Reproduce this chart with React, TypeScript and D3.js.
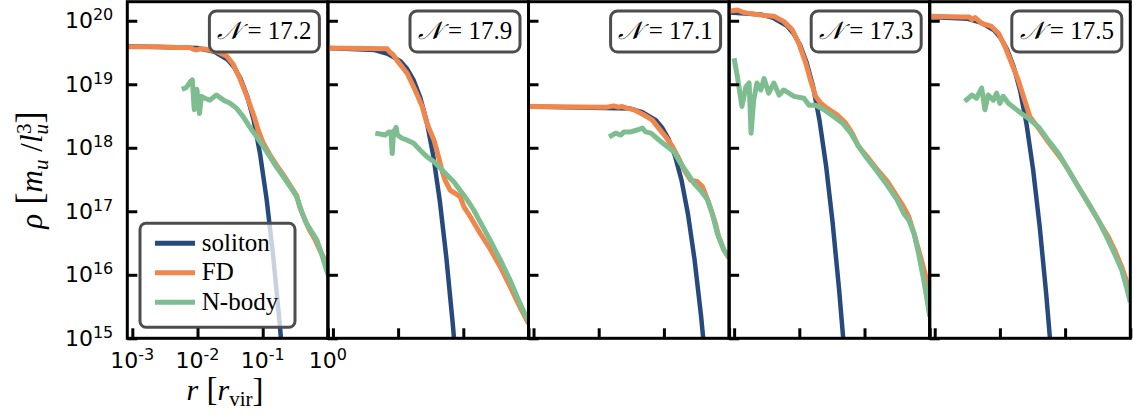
import React, { useEffect, useRef } from 'react';
import * as d3 from 'd3';

// every pair is [log10(r / r_vir), log10(rho)]
const solitonA = [[-3.08, 19.6], [-2.0, 19.57], [-1.74, 19.51], [-1.54, 19.39], [-1.44, 19.27], [-1.34, 19.09], [-1.24, 18.82], [-1.14, 18.44], [-1.04, 17.9], [-0.94, 17.19], [-0.84, 16.3], [-0.74, 15.24], [-0.64, 14.02]];
const fdA = [[-3.08, 19.59], [-2.6, 19.59], [-2.3, 19.58], [-2.12, 19.58], [-2.06, 19.55], [-2.01, 19.54], [-1.95, 19.56], [-1.86, 19.55], [-1.71, 19.52], [-1.55, 19.44], [-1.45, 19.31], [-1.35, 19.09], [-1.25, 18.83], [-1.14, 18.52], [-1.07, 18.28], [-0.99, 18.07], [-0.89, 17.89], [-0.79, 17.73], [-0.68, 17.57], [-0.58, 17.41], [-0.48, 17.25], [-0.43, 17.06], [-0.35, 16.86], [-0.28, 16.7], [-0.2, 16.56], [-0.12, 16.38], [-0.04, 16.22], [0.01, 16.06]];
const nbodyA = [[-2.24, 18.92], [-2.17, 18.95], [-2.11, 19.04], [-2.08, 19.07], [-2.05, 18.6], [-2.01, 18.92], [-1.97, 18.54], [-1.94, 18.81], [-1.89, 18.78], [-1.81, 18.75], [-1.71, 18.83], [-1.6, 18.75], [-1.5, 18.7], [-1.4, 18.62], [-1.3, 18.49], [-1.2, 18.33], [-1.09, 18.17], [-0.99, 18.02], [-0.89, 17.86], [-0.79, 17.7], [-0.68, 17.54], [-0.58, 17.39], [-0.48, 17.23], [-0.4, 16.99], [-0.33, 16.81], [-0.25, 16.68], [-0.17, 16.55], [-0.1, 16.34], [-0.02, 16.07], [0.02, 15.95]];

const solitonB = [[-3.08, 19.57], [-2.36, 19.54], [-2.16, 19.48], [-1.96, 19.36], [-1.86, 19.24], [-1.76, 19.06], [-1.66, 18.79], [-1.56, 18.41], [-1.46, 17.87], [-1.36, 17.16], [-1.26, 16.27], [-1.16, 15.21], [-1.06, 13.99]];
const fdB = [[-3.08, 19.57], [-2.17, 19.56], [-2.12, 19.5], [-2.08, 19.47], [-2.02, 19.38], [-1.86, 19.17], [-1.74, 18.91], [-1.63, 18.65], [-1.56, 18.39], [-1.45, 18.12], [-1.38, 17.86], [-1.33, 17.65], [-1.28, 17.49], [-1.2, 17.33], [-1.12, 17.28], [-1.05, 17.23], [-0.99, 17.07], [-0.89, 16.91], [-0.74, 16.65], [-0.59, 16.41], [-0.43, 16.12], [-0.28, 15.81], [-0.13, 15.49], [0.0, 15.23]];
const nbodyB = [[-2.35, 18.23], [-2.2, 18.2], [-2.14, 18.25], [-2.11, 18.25], [-2.09, 17.91], [-2.07, 18.25], [-2.03, 18.32], [-2.01, 18.2], [-1.94, 18.15], [-1.86, 18.12], [-1.76, 18.07], [-1.66, 17.96], [-1.56, 17.86], [-1.45, 17.78], [-1.35, 17.68], [-1.25, 17.57], [-1.15, 17.47], [-1.05, 17.33], [-0.94, 17.18], [-0.84, 17.02], [-0.74, 16.83], [-0.59, 16.55], [-0.43, 16.23], [-0.28, 15.91], [-0.13, 15.55], [0.0, 15.26]];

const solitonC = [[-3.08, 18.65], [-1.53, 18.62], [-1.33, 18.56], [-1.13, 18.44], [-1.03, 18.32], [-0.93, 18.14], [-0.83, 17.87], [-0.73, 17.49], [-0.63, 16.95], [-0.53, 16.24], [-0.43, 15.35], [-0.33, 14.29]];
const fdC = [[-3.08, 18.65], [-1.87, 18.64], [-1.77, 18.66], [-1.7, 18.64], [-1.64, 18.65], [-1.56, 18.62], [-1.46, 18.6], [-1.31, 18.52], [-1.18, 18.44], [-1.08, 18.31], [-0.97, 18.17], [-0.87, 18.02], [-0.77, 17.83], [-0.69, 17.65], [-0.59, 17.49], [-0.49, 17.47], [-0.41, 17.39], [-0.33, 17.18], [-0.26, 16.97], [-0.21, 16.81], [-0.16, 16.6], [-0.08, 16.39], [0.0, 16.26]];
const nbodyC = [[-1.84, 18.17], [-1.74, 18.23], [-1.66, 18.2], [-1.61, 18.25], [-1.51, 18.25], [-1.41, 18.28], [-1.33, 18.31], [-1.28, 18.25], [-1.2, 18.23], [-1.13, 18.17], [-1.05, 18.1], [-0.95, 18.02], [-0.85, 17.94], [-0.74, 17.75], [-0.64, 17.6], [-0.54, 17.44], [-0.44, 17.33], [-0.33, 17.18], [-0.26, 16.97], [-0.18, 16.65], [-0.08, 16.39], [0.0, 16.28]];

const solitonD = [[-3.08, 20.13], [-2.59, 20.1], [-2.39, 20.04], [-2.19, 19.92], [-2.09, 19.8], [-1.99, 19.62], [-1.89, 19.35], [-1.79, 18.97], [-1.69, 18.43], [-1.59, 17.72], [-1.49, 16.83], [-1.39, 15.77], [-1.29, 14.55]];
const fdD = [[-3.08, 20.15], [-2.95, 20.17], [-2.85, 20.13], [-2.8, 20.12], [-2.59, 20.09], [-2.39, 20.07], [-2.24, 19.99], [-2.11, 19.86], [-2.01, 19.65], [-1.9, 19.33], [-1.83, 19.07], [-1.75, 18.81], [-1.67, 18.7], [-1.57, 18.62], [-1.42, 18.52], [-1.29, 18.39], [-1.19, 18.23], [-1.09, 18.02], [-0.96, 17.86], [-0.8, 17.65], [-0.65, 17.47], [-0.5, 17.23], [-0.4, 17.07], [-0.32, 16.91], [-0.24, 16.65], [-0.14, 16.28], [-0.06, 15.97], [0.0, 15.7]];
const nbodyD = [[-3.0, 19.41], [-2.95, 19.12], [-2.88, 18.65], [-2.82, 18.96], [-2.77, 19.02], [-2.74, 18.23], [-2.7, 18.75], [-2.65, 19.02], [-2.59, 18.91], [-2.54, 19.09], [-2.47, 18.86], [-2.39, 19.02], [-2.31, 18.83], [-2.24, 18.91], [-2.16, 18.86], [-2.08, 18.81], [-1.93, 18.78], [-1.85, 18.67], [-1.75, 18.67], [-1.62, 18.6], [-1.47, 18.49], [-1.34, 18.39], [-1.21, 18.23], [-1.09, 18.02], [-0.96, 17.83], [-0.8, 17.62], [-0.65, 17.41], [-0.5, 17.18], [-0.4, 16.97], [-0.32, 16.86], [-0.24, 16.65], [-0.17, 16.33], [-0.09, 15.91], [-0.04, 15.6], [0.0, 15.34]];

const solitonE = [[-3.08, 20.06], [-2.49, 20.03], [-2.29, 19.97], [-2.09, 19.85], [-1.99, 19.73], [-1.89, 19.55], [-1.79, 19.28], [-1.69, 18.9], [-1.59, 18.36], [-1.49, 17.65], [-1.39, 16.76], [-1.29, 15.7], [-1.19, 14.48]];
const fdE = [[-3.08, 20.07], [-2.59, 20.06], [-2.47, 20.06], [-2.43, 20.02], [-2.38, 20.05], [-2.28, 19.96], [-2.13, 19.91], [-2.02, 19.8], [-1.92, 19.59], [-1.82, 19.33], [-1.72, 19.07], [-1.62, 18.75], [-1.54, 18.49], [-1.41, 18.31], [-1.28, 18.12], [-1.16, 17.96], [-1.05, 17.81], [-0.95, 17.65], [-0.8, 17.39], [-0.64, 17.12], [-0.49, 16.86], [-0.34, 16.6], [-0.24, 16.39], [-0.13, 16.12], [-0.06, 15.91], [0.0, 15.81]];
const nbodyE = [[-2.54, 18.73], [-2.43, 18.83], [-2.36, 18.78], [-2.28, 18.94], [-2.23, 18.6], [-2.18, 18.83], [-2.1, 18.75], [-2.05, 18.86], [-2.0, 18.7], [-1.95, 18.81], [-1.87, 18.7], [-1.77, 18.62], [-1.67, 18.54], [-1.56, 18.46], [-1.41, 18.33], [-1.26, 18.12], [-1.1, 17.91], [-0.95, 17.65], [-0.8, 17.39], [-0.64, 17.12], [-0.49, 16.86], [-0.34, 16.55], [-0.24, 16.33], [-0.13, 16.07], [-0.06, 15.81], [0.0, 15.57]];

const panelN = ['17.2', '17.9', '17.1', '17.3', '17.5'];
const yTickExp = [15, 16, 17, 18, 19, 20];
const xTickExp = [-3, -2, -1, 0];
const seriesNames = ['soliton', 'FD', 'N-body'];
const seriesColors = ['#274a7e', '#f0864c', '#7dbd8f'];
const seriesWidths = [4.5, 5, 5];

const panels = [
  [solitonA, fdA, nbodyA],
  [solitonB, fdB, nbodyB],
  [solitonC, fdC, nbodyC],
  [solitonD, fdD, nbodyD],
  [solitonE, fdE, nbodyE],
];

const W = 1134;
const H = 417;
const left = 127.3;
const top = 1.7;
const pw = 200.6;
const ph = 336.6;
const serif = '"Liberation Serif", "DejaVu Serif", serif';
const sans = '"DejaVu Sans", sans-serif';

const App = () => {
  const chartRef = useRef(null);

  useEffect(() => {
    const svg = d3.select(chartRef.current);
    svg.selectAll('*').remove();

    const x = d3.scaleLog().domain([10 ** -3.077, 1]).range([0, pw]);
    const y = d3.scaleLog().domain([1e15, 10 ** 20.3]).range([ph, 0]);
    const line = d3.line().x((d) => x(10 ** d[0])).y((d) => y(10 ** d[1]));

    const powLabel = (lbl, e) => {
      lbl.append('tspan').text('10');
      lbl.append('tspan').attr('font-size', 16).attr('dy', -8).text(e < 0 ? `-${-e}` : String(e));
    };

    panels.forEach((series, i) => {
      const g = svg.append('g').attr('transform', `translate(${left + i * pw},${top})`);
      g.append('clipPath').attr('id', `clip${i}`)
        .append('rect').attr('width', pw).attr('height', ph);

      const lines = g.append('g').attr('clip-path', `url(#clip${i})`);
      series.forEach((d, k) => {
        lines.append('path')
          .attr('d', line(d))
          .attr('fill', 'none')
          .attr('stroke', seriesColors[k])
          .attr('stroke-width', seriesWidths[k])
          .attr('stroke-linejoin', 'round');
      });

      // legend sits in the first panel, over the lines
      if (i === 0) {
        const lg = g.append('g');
        lg.append('rect')
          .attr('x', 12.7).attr('y', 221.5)
          .attr('width', 155).attr('height', 104)
          .attr('rx', 6)
          .attr('fill', 'white').attr('fill-opacity', 0.75)
          .attr('stroke', '#4d4d4d').attr('stroke-width', 3);
        seriesNames.forEach((name, k) => {
          const cy = 241.5 + k * 29.5;
          lg.append('line')
            .attr('x1', 27.7).attr('x2', 67.7)
            .attr('y1', cy).attr('y2', cy)
            .attr('stroke', seriesColors[k]).attr('stroke-width', 5);
          lg.append('text')
            .attr('x', 74.5).attr('y', cy + 7.5)
            .attr('font-family', serif).attr('font-size', 25)
            .text(name);
        });
      }

      // ticks point inwards
      const yAxis = g.append('g')
        .call(d3.axisLeft(y).tickValues(yTickExp.map((e) => 10 ** e)).tickSize(-10).tickSizeOuter(0).tickFormat(() => ''));
      const xAxis = g.append('g').attr('transform', `translate(0,${ph})`)
        .call(d3.axisBottom(x).tickValues(xTickExp.map((e) => 10 ** e)).tickSize(-10).tickSizeOuter(0).tickFormat(() => ''));
      [yAxis, xAxis].forEach((a) => {
        a.select('.domain').remove();
        a.selectAll('line').attr('stroke', 'black').attr('stroke-width', 3);
      });

      g.append('rect')
        .attr('width', pw).attr('height', ph)
        .attr('fill', 'none').attr('stroke', 'black').attr('stroke-width', 3);

      // N box
      const bx = pw - 118.5;
      g.append('rect')
        .attr('x', bx).attr('y', 9.3)
        .attr('width', 110).attr('height', 41)
        .attr('rx', 7)
        .attr('fill', 'white')
        .attr('stroke', '#4d4d4d').attr('stroke-width', 3);
      const t = g.append('text')
        .attr('x', bx + 55).attr('y', 37.5)
        .attr('text-anchor', 'middle')
        .attr('font-size', 25);
      t.append('tspan').attr('font-family', '"DejaVu Serif", serif').attr('font-style', 'italic').text('𝒩');
      t.append('tspan').attr('font-family', serif).text(` = ${panelN[i]}`);

      if (i === 0) {
        yTickExp.forEach((e) => {
          const lbl = g.append('text')
            .attr('x', -14).attr('y', y(10 ** e) + 7.5)
            .attr('text-anchor', 'end')
            .attr('font-family', sans).attr('font-size', 22);
          powLabel(lbl, e);
        });
        xTickExp.forEach((e) => {
          const lbl = g.append('text')
            .attr('x', x(10 ** e)).attr('y', ph + 29.5)
            .attr('text-anchor', 'middle')
            .attr('font-family', sans).attr('font-size', 22);
          powLabel(lbl, e);
        });
      }
    });

    // axis labels
    const xl = svg.append('text')
      .attr('x', 225).attr('y', 400)
      .attr('text-anchor', 'middle')
      .attr('font-family', serif).attr('font-size', 30);
    xl.append('tspan').attr('font-style', 'italic').text('r');
    xl.append('tspan').attr('font-size', 33).text(' [');
    xl.append('tspan').attr('font-style', 'italic').text('r');
    xl.append('tspan').attr('font-size', 21).attr('dy', 6).text('vir');
    xl.append('tspan').attr('font-size', 33).attr('dy', -5).text(']');

    const yl = svg.append('text')
      .attr('transform', 'translate(42,170) rotate(-90)')
      .attr('text-anchor', 'middle')
      .attr('font-family', serif).attr('font-size', 31);
    yl.append('tspan').attr('font-style', 'italic').text('ρ');
    yl.append('tspan').attr('font-size', 37).text(' [');
    yl.append('tspan').attr('font-style', 'italic').text('m');
    yl.append('tspan').attr('font-style', 'italic').attr('font-size', 21).attr('dy', 6).text('u');
    yl.append('tspan').attr('dy', -6).text(' /');
    yl.append('tspan').attr('font-style', 'italic').text('l');
    yl.append('tspan').attr('font-style', 'italic').attr('font-size', 21).attr('dy', 6).text('u');
    yl.append('tspan').attr('font-size', 21).attr('dx', -10).attr('dy', -17).text('3');
    yl.append('tspan').attr('font-size', 37).attr('dy', 11).text(']');
  }, []);

  return (
    <svg
      ref={chartRef}
      width={W}
      height={H}
      style={{ position: 'absolute', left: 0, top: 0, background: 'white' }}
    />
  );
};

export default App;
